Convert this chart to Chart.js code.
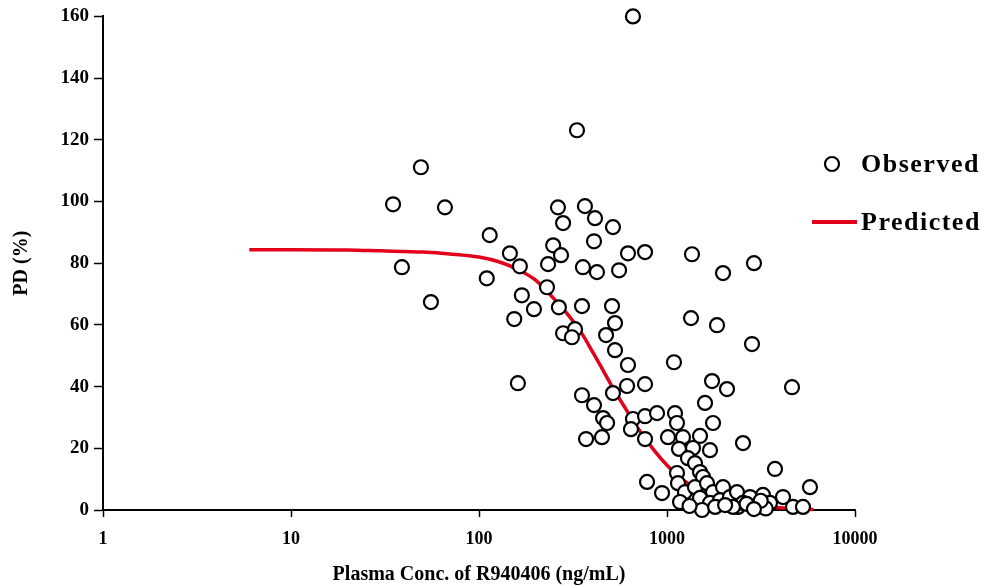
<!DOCTYPE html>
<html>
<head>
<meta charset="utf-8">
<script src="https://cdn.jsdelivr.net/npm/chart.js@4/dist/chart.umd.min.js"></script>
<style>
  html, body { margin: 0; padding: 0; background: #ffffff; }
  #wrap { width: 984px; height: 585px; position: relative; }
</style>
</head>
<body>
<div id="wrap"><canvas id="c" width="984" height="585"></canvas></div>
<script>
// ---- Data ----
const observedConc = [34.9, 49.1, 65.9, 38.9, 55.5, 114, 110, 146, 165, 154, 169, 161, 196, 230, 233, 248, 263, 280, 273, 266, 280, 324, 312, 332, 366, 357, 353, 409, 414, 424, 516, 510, 529, 474, 556, 529, 620, 620, 613, 516, 353, 409, 457, 480, 371, 451, 659, 643, 764, 764, 764, 764, 783, 659, 1358, 1986, 2902, 1342, 1845, 2832, 1089, 1736, 2085, 1593, 885, 1103, 1130, 1757, 1012, 1216, 1498, 1158, 1375, 1693, 1130, 1293, 1409, 1498, 1554, 941, 1144, 1246, 1173, 1409, 1632, 1757, 1986, 1498, 1693, 1914, 2163, 1536, 2386, 2537, 4623, 3753, 5762, 2357, 2763, 3240, 4140, 3531, 3048, 4679, 5288, 2537, 2244, 1318, 1803, 2038, 2650, 3350, 3150, 2900];
const observedPD = [99.1, 111.1, 98.1, 78.7, 67.4, 89.1, 75.1, 83.2, 79.0, 61.9, 69.6, 41.1, 65.1, 72.2, 79.7, 85.8, 98.1, 93.0, 82.6, 65.7, 57.3, 58.6, 56.0, 123.1, 98.5, 78.7, 66.1, 87.1, 94.6, 77.1, 91.7, 66.1, 60.6, 56.7, 77.7, 51.8, 83.2, 47.0, 40.2, 37.9, 37.2, 34.0, 29.8, 28.2, 23.0, 23.6, 29.5, 26.2, 83.6, 40.8, 30.4, 23.0, 9.1, 160, 82.9, 76.8, 80.0, 62.2, 59.9, 53.8, 47.9, 41.8, 39.2, 34.7, 31.4, 31.4, 28.2, 28.2, 23.6, 23.6, 24.0, 19.8, 20.1, 19.4, 12.0, 16.8, 15.2, 12.3, 10.7, 5.5, 8.7, 5.8, 2.6, 7.4, 8.7, 5.8, 7.4, 3.9, 2.3, 3.2, 4.2, 0, 1.0, 21.7, 39.8, 13.3, 7.4, 5.8, 4.2, 4.9, 4.2, 2.3, 1.0, 1.0, 1.0, 2.3, 1.0, 1.3, 1.0, 1.6, 2.0, 0.5, 3.0, 0.3];

const predictedConc = [6, 10, 20, 30, 50, 70, 100, 130, 160, 200, 250, 300, 350, 400, 450, 500, 600, 700, 850, 1000, 1200, 1500, 2000, 2500, 3000, 4000, 5000, 6000];
const predictedPD   = [84.4, 84.4, 84.3, 84.0, 83.6, 83.0, 82.0, 80.3, 78.0, 74.5, 68.5, 63.0, 57.5, 51.5, 46.0, 41.0, 33.0, 26.5, 19.5, 14.5, 10.0, 6.2, 3.4, 2.1, 1.4, 0.7, 0.4, 0.2];

const xTickValues = [1, 10, 100, 1000, 10000];
const yTickValues = [0, 20, 40, 60, 80, 100, 120, 140, 160];

const seriesNames = ['Observed', 'Predicted'];
const xTitle = 'Plasma Conc. of R940406 (ng/mL)';
const yTitle = 'PD (%)';

// ---- Build chart ----
const FONT = '"Liberation Serif", "Times New Roman", Times, serif';
const RED = '#e2001a';

const obsPoints = observedConc.map((x, i) => ({ x: x, y: observedPD[i] }));
const predPoints = predictedConc.map((x, i) => ({ x: x, y: predictedPD[i] }));

const legendPlugin = {
  id: 'customLegend',
  afterDraw(chart) {
    const ctx = chart.ctx;
    ctx.save();
    ctx.beginPath();
    ctx.arc(832, 164, 7, 0, Math.PI * 2);
    ctx.fillStyle = '#ffffff';
    ctx.fill();
    ctx.lineWidth = 2.2;
    ctx.strokeStyle = '#000000';
    ctx.stroke();
    ctx.beginPath();
    ctx.moveTo(812, 222);
    ctx.lineTo(857, 222);
    ctx.lineWidth = 4;
    ctx.strokeStyle = RED;
    ctx.stroke();
    ctx.fillStyle = '#000000';
    ctx.font = 'bold 26px ' + FONT;
    if ('letterSpacing' in ctx) ctx.letterSpacing = '1.5px';
    ctx.textBaseline = 'middle';
    ctx.textAlign = 'left';
    ctx.fillText(seriesNames[0], 861, 165);
    ctx.fillText(seriesNames[1], 861, 223);
    ctx.restore();
  }
};

new Chart(document.getElementById('c'), {
  type: 'scatter',
  data: {
    datasets: [
      {
        label: seriesNames[0],
        data: obsPoints,
        showLine: false,
        pointRadius: 7,
        pointHoverRadius: 7,
        pointBorderWidth: 2.2,
        pointBorderColor: '#000000',
        pointBackgroundColor: '#ffffff',
        clip: false,
        order: 0
      },
      {
        label: seriesNames[1],
        data: predPoints,
        showLine: true,
        borderColor: RED,
        borderWidth: 3.5,
        pointRadius: 0,
        pointHoverRadius: 0,
        tension: 0,
        cubicInterpolationMode: 'monotone',
        fill: false,
        clip: false,
        order: 1
      }
    ]
  },
  options: {
    responsive: false,
    animation: false,
    devicePixelRatio: 1,
    layout: { padding: { left: 0, right: 129, top: 16, bottom: 0 } },
    plugins: {
      legend: { display: false },
      tooltip: { enabled: false }
    },
    scales: {
      x: {
        type: 'logarithmic',
        min: 1,
        max: 10000,
        afterBuildTicks(scale) {
          scale.ticks = xTickValues.map(v => ({ value: v, major: true }));
        },
        afterFit(scale) { scale.height = 75; },
        ticks: {
          autoSkip: false,
          maxRotation: 0,
          color: '#000000',
          padding: 12,
          font: { family: FONT, size: 18, weight: 'bold' },
          callback: (v) => String(v)
        },
        grid: {
          display: true,
          drawOnChartArea: false,
          drawTicks: true,
          tickLength: 7,
          tickWidth: 1.5,
          tickColor: '#000000'
        },
        border: { display: true, color: '#000000', width: 2 },
        title: {
          display: true,
          text: xTitle,
          color: '#000000',
          padding: { top: 0, bottom: 0 },
          font: { family: FONT, size: 20, weight: 'bold', lineHeight: 1.0 }
        }
      },
      y: {
        type: 'linear',
        min: 0,
        max: 160,
        afterBuildTicks(scale) {
          scale.ticks = yTickValues.map(v => ({ value: v }));
        },
        afterFit(scale) { scale.width = 103; },
        ticks: {
          color: '#000000',
          padding: 5,
          font: { family: FONT, size: 19, weight: 'bold' }
        },
        grid: {
          display: true,
          drawOnChartArea: false,
          drawTicks: true,
          tickLength: 9,
          tickWidth: 1.5,
          tickColor: '#000000'
        },
        border: { display: true, color: '#000000', width: 2 },
        title: {
          display: true,
          text: yTitle,
          color: '#000000',
          padding: { top: 10, bottom: 0 },
          font: { family: FONT, size: 20, weight: 'bold', lineHeight: 1.2 }
        }
      }
    }
  },
  plugins: [legendPlugin]
});
</script>
</body>
</html>
